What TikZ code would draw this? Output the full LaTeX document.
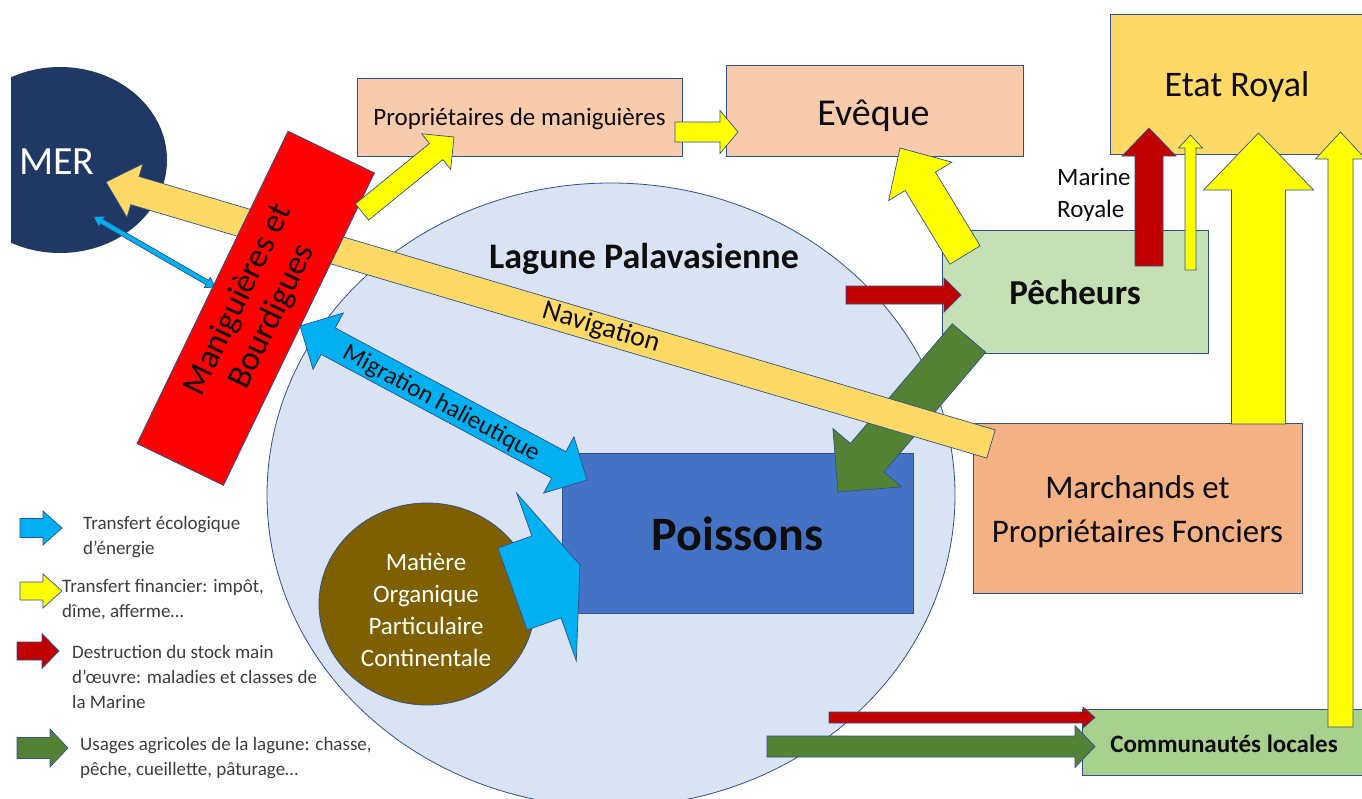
\documentclass[tikz,border=0pt]{standalone}
\usepackage{fontspec}
\setmainfont{Carlito}
\usetikzlibrary{calc,shapes.geometric}
\definecolor{bord}{HTML}{2F528F}
\definecolor{lag}{HTML}{DAE3F3}
\definecolor{merc}{HTML}{203864}
\definecolor{peach}{HTML}{F8CBAD}
\definecolor{gold}{HTML}{FFD966}
\definecolor{pgreen}{HTML}{C5E0B4}
\definecolor{orng}{HTML}{F4B183}
\definecolor{lgreen}{HTML}{A9D18E}
\definecolor{fishb}{HTML}{4472C4}
\definecolor{mbrown}{HTML}{7F6000}
\definecolor{yel}{HTML}{FFFF00}
\definecolor{cyanb}{HTML}{00B0F0}
\definecolor{dred}{HTML}{C00000}
\definecolor{dgreen}{HTML}{548235}
\definecolor{txt}{HTML}{0D0D0D}
\newcommand{\fsz}[2]{\fontsize{#1}{#2}\selectfont}
% single block arrow: style, from, to, shaft half width, head half width, head length
\newcommand{\blkarrow}[6]{%
 \path[#1] let \p1=($(#3)-(#2)$), \n1={atan2(\y1,\x1)}, \n2={veclen(\x1,\y1)-#6} in
  ($(#2)+(\n1+90:#4)$) -- ($(#2)+(\n1:\n2)+(\n1+90:#4)$) -- ($(#2)+(\n1:\n2)+(\n1+90:#5)$) -- (#3)
  -- ($(#2)+(\n1:\n2)+(\n1-90:#5)$) -- ($(#2)+(\n1:\n2)+(\n1-90:#4)$) -- ($(#2)+(\n1-90:#4)$) -- cycle;}
% double block arrow
\newcommand{\dblkarrow}[6]{%
 \path[#1] let \p1=($(#3)-(#2)$), \n1={atan2(\y1,\x1)}, \n2={veclen(\x1,\y1)-#6}, \n3={#6} in
  (#2) -- ($(#2)+(\n1:\n3)+(\n1+90:#5)$) -- ($(#2)+(\n1:\n3)+(\n1+90:#4)$) -- ($(#2)+(\n1:\n2)+(\n1+90:#4)$)
  -- ($(#2)+(\n1:\n2)+(\n1+90:#5)$) -- (#3) -- ($(#2)+(\n1:\n2)+(\n1-90:#5)$) -- ($(#2)+(\n1:\n2)+(\n1-90:#4)$)
  -- ($(#2)+(\n1:\n3)+(\n1-90:#4)$) -- ($(#2)+(\n1:\n3)+(\n1-90:#5)$) -- cycle;}
\begin{document}
\begin{tikzpicture}[x=1pt,y=-1pt,
 box/.style={draw=bord, line width=0.8pt, inner sep=0pt, text=txt, align=center},
 arr/.style={draw=bord, line width=0.7pt, line join=miter, fill=#1},
 lbl/.style={inner sep=0pt, text=txt, align=center},
 leg/.style={inner sep=0pt, anchor=west, align=left, text=txt!80!white, font=\fsz{19}{25}}]
\useasboundingbox (0,0) rectangle (1362,798);
\fill[white] (0,0) rectangle (1362,798);

% lagoon
\node[ellipse, draw=bord, line width=0.8pt, fill=lag, minimum width=688pt, minimum height=624pt, inner sep=0pt] (lagune) at (611,495) {};
\node[lbl, font=\bfseries\fsz{36}{43}] (lagtxt) at (644,259) {Lagune Palavasienne};

% sea
\begin{scope}
 \clip (11,0) rectangle (1362,798);
 \node[ellipse, fill=merc, minimum width=214pt, minimum height=186pt, inner sep=0pt] (mer) at (60,160) {};
\end{scope}
\node[lbl, text=white, font=\fsz{40}{48}] (mertxt) at (57,162) {MER};

% boxes
\node[box, fill=peach, minimum width=325pt, minimum height=78pt] (prop) at (519.5,117) {};
\node[lbl, font=\fsz{25}{30}] (proptxt) at ($(prop)+(0,2)$) {Propriétaires de maniguières};
\node[box, fill=peach, minimum width=297pt, minimum height=91pt] (eveque) at (874.5,110.5) {};
\node[lbl, font=\fsz{38}{46}] (evequetxt) at ($(eveque)+(-1,5)$) {Evêque};
\node[box, fill=gold, minimum width=254pt, minimum height=140pt] (etat) at (1237,84) {};
\node[lbl, font=\fsz{36}{43}] (etattxt) at ($(etat)+(0,3)$) {Etat Royal};
\node[box, fill=pgreen, minimum width=266pt, minimum height=123pt] (pech) at (1075,291.5) {};
\node[lbl, font=\bfseries\fsz{35}{42}] (pechtxt) at ($(pech)+(0,1)$) {Pêcheurs};
\node[box, fill=orng, minimum width=329pt, minimum height=170pt] (march) at (1137.5,508) {};
\node[lbl, font=\fsz{33}{44}] (marchtxt) at ($(march)+(0,4)$) {Marchands et\\Propriétaires Fonciers};
\node[box, fill=lgreen, minimum width=282pt, minimum height=66pt] (comm) at (1223,742) {};
\node[lbl, font=\bfseries\fsz{25}{30}] (commtxt) at ($(comm)+(1,1.5)$) {Communautés locales};
\node[box, fill=fishb, minimum width=351pt, minimum height=160pt] (poiss) at (737.5,533) {};
\node[lbl, font=\bfseries\fsz{48}{56}] (poisstxt) at ($(poiss)+(0,1)$) {Poissons};
\node[ellipse, draw=bord, line width=0.8pt, fill=mbrown, minimum width=216pt, minimum height=202pt, inner sep=0pt] (mat) at (427,604) {};
\node[lbl, text=white, font=\fsz{25}{32}] (mattxt) at (426,610) {Matière\\Organique\\Particulaire\\Continentale};
\node[lbl, anchor=west, align=left, font=\fsz{25}{32}] (marine) at (1057,195) {Marine\\Royale};

% arrow end points
\coordinate (smA) at (94,217);   \coordinate (smB) at (215,287);
\coordinate (grA) at (969,338);  \coordinate (grB) at (838,492);
\coordinate (navA) at (991,444); \coordinate (navB) at (106,182);
\coordinate (migA) at (300,326); \coordinate (migB) at (587,480);
\coordinate (mpA) at (362,212);  \coordinate (mpB) at (454,137);
\coordinate (peA) at (675,132);  \coordinate (peB) at (738,132);
\coordinate (pvA) at (965,255);  \coordinate (pvB) at (900,148);
\coordinate (rpA) at (846,295);  \coordinate (rpB) at (961,295);
\coordinate (ruA) at (1149,266); \coordinate (ruB) at (1149,128);
\coordinate (tyA) at (1190.5,270); \coordinate (tyB) at (1190.5,135);
\coordinate (byA) at (1258.5,424); \coordinate (byB) at (1258.5,133);
\coordinate (cyA) at (1340.5,727); \coordinate (cyB) at (1340.5,132);
\coordinate (rcA) at (829,717.5); \coordinate (rcB) at (1095,717.5);
\coordinate (gcA) at (767,746.5); \coordinate (gcB) at (1095,746.5);
\coordinate (moA) at (512.5,589); \coordinate (moB) at (580,565);

\dblkarrow{arr=cyanb}{smA}{smB}{2.5pt}{6pt}{9pt}
\blkarrow{arr=dgreen}{grA}{grB}{22pt}{45pt}{45pt}
\blkarrow{arr=gold}{navA}{navB}{14.7pt}{28pt}{30pt}
\node[lbl, rotate=-16.5, font=\fsz{28}{34}] (navtxt) at (601,328) {Navigation};

% maniguieres
\node[box, fill=red, rotate=64.2, minimum width=347pt, minimum height=96pt, font=\fsz{34}{38}] (manig) at (255.75,308.25) {Maniguières et\\Bourdigues};

\dblkarrow{arr=cyanb}{migA}{migB}{15pt}{32pt}{32pt}
\node[lbl, rotate=-28.2, font=\fsz{25}{30}] (migtxt) at (441,404) {Migration halieutique};

\blkarrow{arr=yel}{mpA}{mpB}{10.5pt}{23pt}{23pt}
\blkarrow{arr=yel}{peA}{peB}{10pt}{21.5pt}{18pt}
\blkarrow{arr=yel}{pvA}{pvB}{17.7pt}{37pt}{39pt}
\blkarrow{arr=dred}{rpA}{rpB}{9pt}{17pt}{17pt}
\blkarrow{arr=dred}{ruA}{ruB}{14pt}{27pt}{28pt}
\blkarrow{arr=yel}{tyA}{tyB}{5.5pt}{12pt}{13pt}
\blkarrow{arr=yel}{byA}{byB}{27pt}{55pt}{57pt}
\blkarrow{arr=yel}{cyA}{cyB}{12.5pt}{25pt}{27pt}
\blkarrow{arr=dred}{rcA}{rcB}{5.5pt}{10.5pt}{12pt}
\blkarrow{arr=dgreen}{gcA}{gcB}{10.5pt}{21pt}{20pt}
\blkarrow{arr=cyanb}{moA}{moB}{43.5pt}{89pt}{35.6pt}

% legend
\coordinate (l1A) at (20,528);  \coordinate (l1B) at (62,528);
\coordinate (l2A) at (20,591);  \coordinate (l2B) at (62,591);
\coordinate (l3A) at (17,651);  \coordinate (l3B) at (59,651);
\coordinate (l4A) at (17,748);  \coordinate (l4B) at (68,748);
\blkarrow{arr=cyanb}{l1A}{l1B}{9.5pt}{17pt}{19pt}
\blkarrow{arr=yel}{l2A}{l2B}{9pt}{17pt}{19pt}
\blkarrow{arr=dred}{l3A}{l3B}{9pt}{17.5pt}{17pt}
\blkarrow{arr=dgreen}{l4A}{l4B}{10.5pt}{19pt}{18pt}
\node[leg] (leg1) at (83,537) {Transfert écologique\\d’énergie};
\node[leg] (leg2) at (62,600) {Transfert financier: impôt,\\dîme, afferme…};
\node[leg] (leg3) at (72,677) {Destruction du stock main\\d’œuvre: maladies et classes de\\la Marine};
\node[leg] (leg4) at (80,758) {Usages agricoles de la lagune: chasse,\\pêche, cueillette, pâturage…};
\end{tikzpicture}
\end{document}
